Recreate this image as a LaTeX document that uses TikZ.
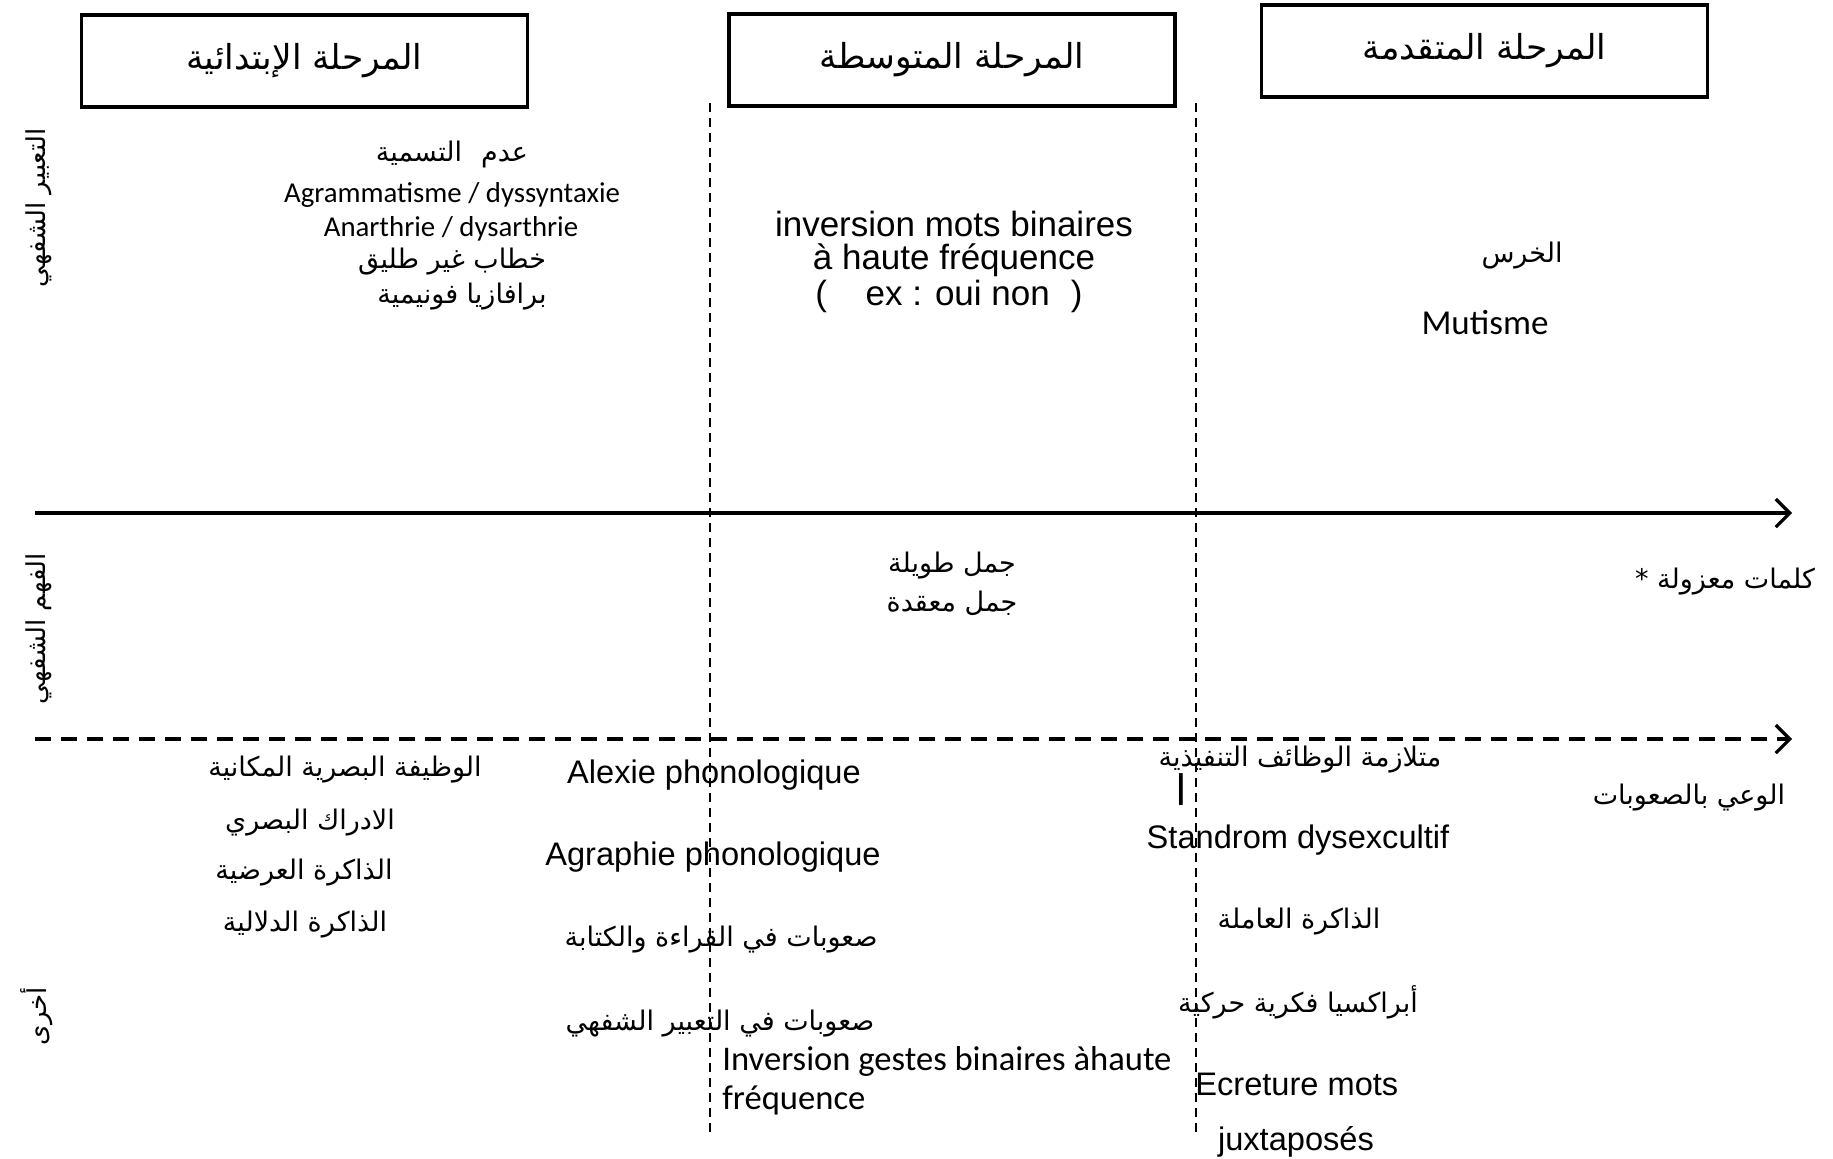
\documentclass[tikz,border=0pt]{standalone}
\usepackage{fontspec}
\usetikzlibrary{arrows.meta}
\setmainfont{Liberation Sans}
\newfontfamily\arabicfont[Script=Arabic]{DejaVu Sans}
\newfontfamily\calibrifont{Carlito}
\newfontfamily\arialfont{Liberation Sans}
\TeXXeTstate=1
\newcommand{\ar}[1]{{\arabicfont\beginR #1\endR}}

\begin{document}
\begin{tikzpicture}[x=0.5pt,y=-0.5pt,
  stagebox/.style={draw, line width=1.6pt, minimum width=223pt, minimum height=46pt,
    inner sep=0pt, font=\fontsize{17.2}{19}\selectfont},
  artext/.style={inner sep=0pt, font=\fontsize{13.5}{15}\selectfont},
  sidelabel/.style={inner sep=0pt, rotate=90, font=\fontsize{13}{15}\selectfont},
  calib/.style={inner sep=0pt, font=\calibrifont\fontsize{14.4}{16}\selectfont},
  calibbig/.style={inner sep=0pt, font=\calibrifont\fontsize{17.5}{19}\selectfont},
  arialtext/.style={inner sep=0pt, font=\arialfont\fontsize{16.3}{18}\selectfont},
  arialbig/.style={inner sep=0pt, font=\arialfont\fontsize{17.5}{19}\selectfont},
  mainaxis/.style={line width=2.2pt, -{Straight Barb[length=7pt,width=14pt,line width=1.6pt]}},
  secaxis/.style={line width=2.2pt, dash pattern=on 8pt off 5pt,
    -{Straight Barb[length=7pt,width=14pt,line width=1.6pt]}},
  divider/.style={line width=0.6pt, dash pattern=on 4.5pt off 3pt}]

\useasboundingbox (0,0) rectangle (1833,1158);

% stage headers
\node[stagebox] (early) at (304.5,61) {\ar{المرحلة الإبتدائية}};
\node[stagebox] (middle) at (952,60) {\ar{المرحلة المتوسطة}};
\node[stagebox] (late) at (1484.5,51) {\ar{المرحلة المتقدمة}};

% stage dividers
\coordinate (d1top) at (710,103);
\coordinate (d1bot) at (710,1132);
\coordinate (d2top) at (1196,103);
\coordinate (d2bot) at (1196,1132);
\draw[divider] (d1top) -- (d1bot);
\draw[divider] (d2top) -- (d2bot);

% time axes
\coordinate (ax1s) at (35,513);
\coordinate (ax1e) at (1792,513);
\coordinate (ax2s) at (35,739);
\coordinate (ax2e) at (1792,739);
\draw[mainaxis] (ax1s) -- (ax1e);
\draw[secaxis] (ax2s) -- (ax2e);

% row labels
\node[sidelabel] (rowexpr) at (39,208) {\ar{التعبير الشفهي}};
\node[sidelabel] (rowcomp) at (39,629) {\ar{الفهم الشفهي}};
\node[sidelabel] (rowother) at (37,1016) {\ar{أخرى}};

% oral expression
\node[artext] (naming) at (452,154) {\ar{عدم\hspace{0.7em}التسمية}};
\node[calib] (agram) at (452,195) {Agrammatisme / dyssyntaxie};
\node[calib] (anarth) at (451,229) {Anarthrie / dysarthrie};
\node[artext] (nonfluent) at (452,262) {\ar{خطاب غير طليق}};
\node[artext] (paraph) at (462,297) {\ar{برافازيا فونيمية}};

\node[arialbig] (inv1) at (954,224) {inversion mots binaires};
\node[arialbig] (inv2) at (954,260) {à haute fréquence};
\node[arialbig] (inv3) at (949,296) {(\hspace{1.1em}ex : oui non\hspace{0.6em})};

\node[artext] (mutar) at (1522,256) {\ar{الخرس}};
\node[calibbig] (mutfr) at (1485,323) {Mutisme};

% oral comprehension
\node[artext] (longsent) at (952,566) {\ar{جمل طويلة}};
\node[artext] (complexsent) at (952,603) {\ar{جمل معقدة}};
\node[artext] (isolated) at (1725,582) {\ar{كلمات معزولة *}};

% other functions
\node[artext] (visuo) at (345,770) {\ar{الوظيفة البصرية المكانية}};
\node[artext] (percept) at (310,823) {\ar{الادراك البصري}};
\node[artext] (episod) at (304,873) {\ar{الذاكرة العرضية}};
\node[artext] (semant) at (305,925) {\ar{الذاكرة الدلالية}};

\node[arialtext] (alexia) at (714,775) {Alexie phonologique};
\node[arialtext] (agraph) at (713,857) {Agraphie phonologique};
\node[artext] (readwrite) at (721,940) {\ar{صعوبات في القراءة والكتابة}};
\node[artext] (oraldiff) at (720,1024) {\ar{صعوبات في التعبير الشفهي}};
\node[calibbig, font=\calibrifont\fontsize{17.3}{19}\selectfont, anchor=west] (gest1) at (722,1061) {Inversion gestes binaires àhaute};
\node[calibbig, font=\calibrifont\fontsize{17.3}{19}\selectfont, anchor=west] (gest2) at (722,1100) {fréquence};

\node[artext] (dysexar) at (1300,760) {\ar{متلازمة الوظائف التنفيذية}};
\node[artext, font=\fontsize{21}{23}\selectfont] (alef) at (1181,790) {\ar{ا}};
\node[arialtext] (dysexfr) at (1298,840) {Standrom dysexcultif};
\node[artext] (working) at (1299,922) {\ar{الذاكرة العاملة}};
\node[artext] (apraxia) at (1298,1002) {\ar{أبراكسيا فكرية حركية}};
\node[arialtext, anchor=west] (ecret1) at (1195,1084) {Ecreture mots};
\node[arialtext] (ecret2) at (1296,1142) {juxtaposés};

\node[artext] (aware) at (1689,798) {\ar{الوعي بالصعوبات}};

\end{tikzpicture}
\end{document}
